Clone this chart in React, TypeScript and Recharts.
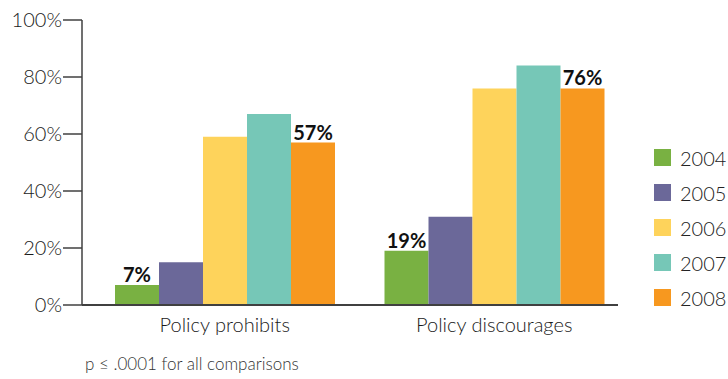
import { BarChart, Bar, XAxis, YAxis, Legend, LabelList } from 'recharts';

const categories = ['Policy prohibits', 'Policy discourages'];
const years = ['2004', '2005', '2006', '2007', '2008'];
const values2004 = [7, 19];
const values2005 = [15, 31];
const values2006 = [59, 76];
const values2007 = [67, 84];
const values2008 = [57, 76];
const yTicks = [0, 20, 40, 60, 80, 100];
const note = 'p ≤ .0001 for all comparisons';

const colors = ['#79b142', '#6b6899', '#fed35b', '#76c7b7', '#f7981f'];
const seriesValues = [values2004, values2005, values2006, values2007, values2008];

const data = categories.map((name, i) => {
    const row: Record<string, string | number> = { name };
    years.forEach((y, j) => {
        row[y] = seriesValues[j][i];
    });
    return row;
});

const font = 'Lato, "Open Sans", sans-serif';

function LegendBox({ payload }: any) {
    return (
        <div style={{ fontFamily: font }}>
            {(payload || []).map((entry: any) => (
                <div key={entry.value} style={{ display: 'flex', alignItems: 'center', height: 35 }}>
                    <span style={{ width: 17, height: 17, background: entry.color, display: 'inline-block', marginRight: 9 }} />
                    <span style={{ fontSize: 20, fontWeight: 300, color: '#222' }}>{entry.value}</span>
                </div>
            ))}
        </div>
    );
}

export default function App() {
    return (
        <div style={{ position: 'absolute', left: 0, top: 0, width: 728, height: 379, background: '#fff' }}>
            <BarChart
                width={728}
                height={379}
                data={data}
                margin={{ top: 20, right: 99, left: 0, bottom: 34 }}
                barGap={0}
            >
                <XAxis
                    dataKey="name"
                    axisLine={false}
                    tickLine={false}
                    tickSize={6}
                    tickMargin={7}
                    height={40}
                    padding={{ left: 8, right: 0 }}
                    tick={{ fill: '#1a1a1a', fontSize: 20, fontWeight: 300, fontFamily: font }}
                />
                <YAxis
                    domain={[0, 100]}
                    ticks={yTicks}
                    width={82}
                    tickSize={19}
                    tickMargin={1}
                    tickFormatter={(v) => `${v}%`}
                    axisLine={{ stroke: '#404040', strokeWidth: 1.5 }}
                    tickLine={{ stroke: '#404040', strokeWidth: 1.5 }}
                    tick={{ fill: '#1a1a1a', fontSize: 20, fontWeight: 300, fontFamily: font }}
                />
                <Legend
                    layout="vertical"
                    align="center"
                    verticalAlign="middle"
                    content={<LegendBox />}
                    wrapperStyle={{ left: 654, top: 140, width: 80 }}
                />
                {years.map((y, j) => (
                    <Bar key={y} dataKey={y} fill={colors[j]} barSize={44} isAnimationActive={false}>
                        {(j === 0 || j === years.length - 1) && (
                            <LabelList
                                dataKey={y}
                                position="top"
                                offset={3}
                                formatter={(v: any) => `${v}%`}
                                style={{ fill: '#111', fontSize: 20, fontWeight: 700, fontFamily: font }}
                            />
                        )}
                    </Bar>
                ))}
            </BarChart>
            <div style={{ position: 'absolute', left: 82, top: 304, width: 536, height: 1.5, background: '#404040' }} />
            <div
                style={{
                    position: 'absolute',
                    left: 85,
                    top: 353,
                    fontFamily: font,
                    fontSize: 17,
                    fontWeight: 300,
                    color: '#333',
                    whiteSpace: 'nowrap'
                }}
            >
                {note}
            </div>
        </div>
    );
}
